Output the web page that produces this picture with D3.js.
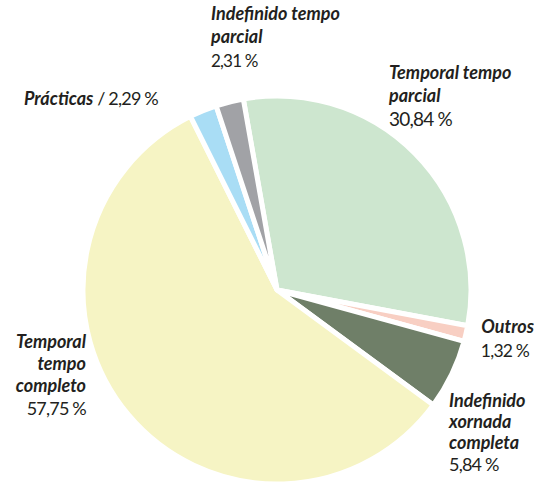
<!DOCTYPE html>
<html>
<head>
<meta charset="utf-8">
<script src="https://cdn.jsdelivr.net/npm/d3@7"></script>
<style>
  body { margin: 0; background: #fff; }
  svg text { font-family: Lato, "Open Sans", sans-serif; fill: #231f20; }
  .nm { font-weight: bold; font-style: italic; }
  .pc { letter-spacing: -0.8px; }
</style>
</head>
<body>
<div id="chart"></div>
<script>

// datos (sentido horario desde arriba)
let categories = ["Temporal tempo parcial", "Outros", "Indefinido xornada completa",
                  "Temporal tempo completo", "Prácticas", "Indefinido tempo parcial"];
let values = [30.84, 1.32, 5.84, 57.75, 2.29, 2.31];
let valueLabels = ["30,84 %", "1,32 %", "5,84 %", "57,75 %", "2,29 %", "2,31 %"];
let colors = ["#cde6cf", "#f8cfc3", "#6f7f68", "#f6f4c4", "#a9ddf5", "#a1a2a6"];

///////////////////////////////////////////////////////////////////////

let width = 534, height = 483;
let cx = 277, cy = 290, radius = 194;

let svg = d3.select("#chart")
            .append("svg")
            .attr("width", width)
            .attr("height", height);

let pie = d3.pie()
            .sort(null)
            .value(d => d)
            .startAngle(-10 * Math.PI / 180)
            .endAngle(350 * Math.PI / 180);

let arc = d3.arc().innerRadius(0).outerRadius(radius);

let g = svg.append("g").attr("transform", `translate(${cx},${cy})`);

g.selectAll("path")
 .data(pie(values))
 .join("path")
 .attr("d", arc)
 .attr("fill", (d, i) => colors[i])
 .attr("stroke", "#fff")
 .attr("stroke-width", 5)
 .attr("stroke-linejoin", "round");

///////////////////////////////////////////////////////////////////////
// etiquetas: liñas do nome, posición, aliñamento

let labels = [
  { lines: ["Temporal tempo", "parcial"], x: 389, y: 79, anchor: "start", pct: 19 },
  { lines: ["Outros"], x: 534, y: 333, anchor: "end", pct: 17.5, px: 529 },
  { lines: ["Indefinido", "xornada", "completa"], x: 449, y: 407, anchor: "start", pct: 18, lh: 21 },
  { lines: ["Temporal", "tempo", "completo"], x: 86, y: 348, anchor: "end", pct: 18, lh: 22 },
  null,
  { lines: ["Indefinido tempo", "parcial"], x: 211, y: 20, anchor: "start", pct: 17 }
];

labels.forEach((lb, i) => {
  if (!lb) return;
  let lh = lb.lh || 23;
  let t = svg.append("text")
             .attr("x", lb.x)
             .attr("y", lb.y)
             .attr("text-anchor", lb.anchor);
  lb.lines.forEach((ln, k) => {
    t.append("tspan")
     .attr("class", "nm")
     .attr("x", lb.x)
     .attr("y", lb.y + k * lh)
     .attr("font-size", 18)
     .text(ln);
  });
  t.append("tspan")
   .attr("class", "pc")
   .attr("x", lb.px || lb.x)
   .attr("y", lb.y + lb.lines.length * lh + 1)
   .attr("font-size", lb.pct)
   .text(valueLabels[i]);
});

// Prácticas nunha soa liña
let tp = svg.append("text").attr("x", 24).attr("y", 105);
tp.append("tspan").attr("class", "nm").attr("font-size", 18).text(categories[4]);
tp.append("tspan").attr("class", "pc").attr("font-size", 18).text(" / " + valueLabels[4]);

</script>
</body>
</html>
